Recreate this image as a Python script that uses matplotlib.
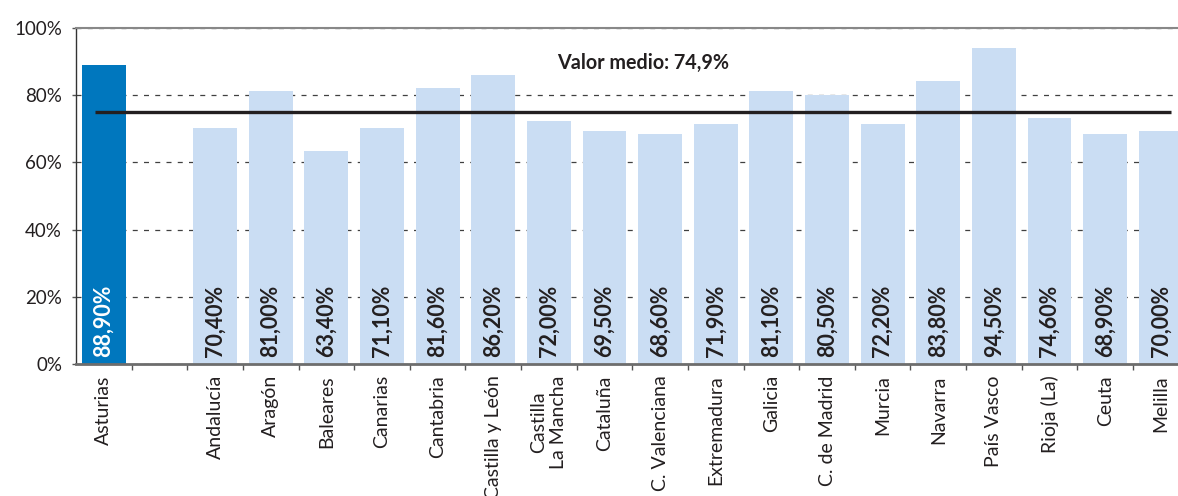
import numpy as np
import matplotlib.pyplot as plt

# Datos
regiones = ["Asturias", "", "Andalucía", "Aragón", "Baleares", "Canarias", "Cantabria",
            "Castilla y León", "Castilla\nLa Mancha", "Cataluña", "C. Valenciana",
            "Extremadura", "Galicia", "C. de Madrid", "Murcia", "Navarra",
            "País Vasco", "Rioja (La)", "Ceuta", "Melilla"]
# valores que aparecen en las etiquetas
valores = [88.9, np.nan, 70.4, 81.0, 63.4, 71.1, 81.6, 86.2, 72.0, 69.5, 68.6,
           71.9, 81.1, 80.5, 72.2, 83.8, 94.5, 74.6, 68.9, 70.0]
# altura de las barras tal como se dibujan en el original
altura_barras = [89.0, 0, 70.2, 81.2, 63.4, 70.2, 82.1, 86.0, 72.3, 69.3, 68.5,
                 71.4, 81.2, 80.1, 71.4, 84.2, 94.0, 73.2, 68.5, 69.3]
valor_medio = 74.9

azul_oscuro = "#0077BE"
azul_claro = "#CADDF3"
texto = "#231F20"

plt.rcParams['font.family'] = ['Lato', 'DejaVu Sans']

fig = plt.figure(figsize=(11.78, 4.96), dpi=100)
ax = fig.add_axes([0.0645, 0.266, 1.009 - 0.0645, 0.9435 - 0.266])

x = np.arange(len(regiones))
colores = [azul_oscuro if r == "Asturias" else azul_claro for r in regiones]
ax.bar(x, altura_barras, width=0.79, color=colores, zorder=2)

# etiquetas de valor dentro de las barras
for xi, v, r in zip(x, valores, regiones):
    if np.isnan(v):
        continue
    etiqueta = f"{v:.2f}%".replace(".", ",")
    ax.text(xi, 2.0, etiqueta, rotation=90, ha='center', va='bottom',
            fontsize=15.5, fontweight='bold', zorder=3,
            color='white' if r == "Asturias" else texto)

# linea del valor medio
ax.plot([-0.16, 19.18], [valor_medio, valor_medio], color=texto, lw=2.4, zorder=4,
        solid_capstyle='butt')
ax.text(9.7, 89.6, "Valor medio: " + f"{valor_medio:.1f}%".replace(".", ","),
        ha='center', va='center', fontsize=14.2, fontweight='bold', color=texto)

ax.set_xlim(-0.5, len(regiones) - 0.5)
ax.set_ylim(0, 100)
ax.set_yticks([0, 20, 40, 60, 80, 100])
ax.set_yticklabels([f"{t}%" for t in range(0, 101, 20)])
ax.set_xticks(x)
ax.set_xticklabels(regiones, rotation=90, va='top', ha='center', multialignment='center')
ax.set_xticks(np.arange(0.5, len(regiones) - 0.5), minor=True)

ax.tick_params(axis='x', which='major', length=0, pad=8, labelsize=14, labelcolor=texto)
ax.tick_params(axis='x', which='minor', length=4, width=1, color='#555555', direction='out')
ax.tick_params(axis='y', length=3, width=1, color='#555555', pad=7, labelsize=13.5,
               labelcolor=texto)

ax.yaxis.grid(True, linestyle=(0, (4, 5)), color='#404040', lw=0.9, zorder=0)
ax.set_axisbelow(True)

ax.spines['right'].set_visible(False)
ax.spines['top'].set_color('#888888')
ax.spines['top'].set_linewidth(1.5)
ax.spines['left'].set_color('#333333')
ax.spines['left'].set_linewidth(1.0)
ax.spines['bottom'].set_color('#6d6d6d')
ax.spines['bottom'].set_linewidth(2.0)

fig.savefig("out.png", dpi=100)
